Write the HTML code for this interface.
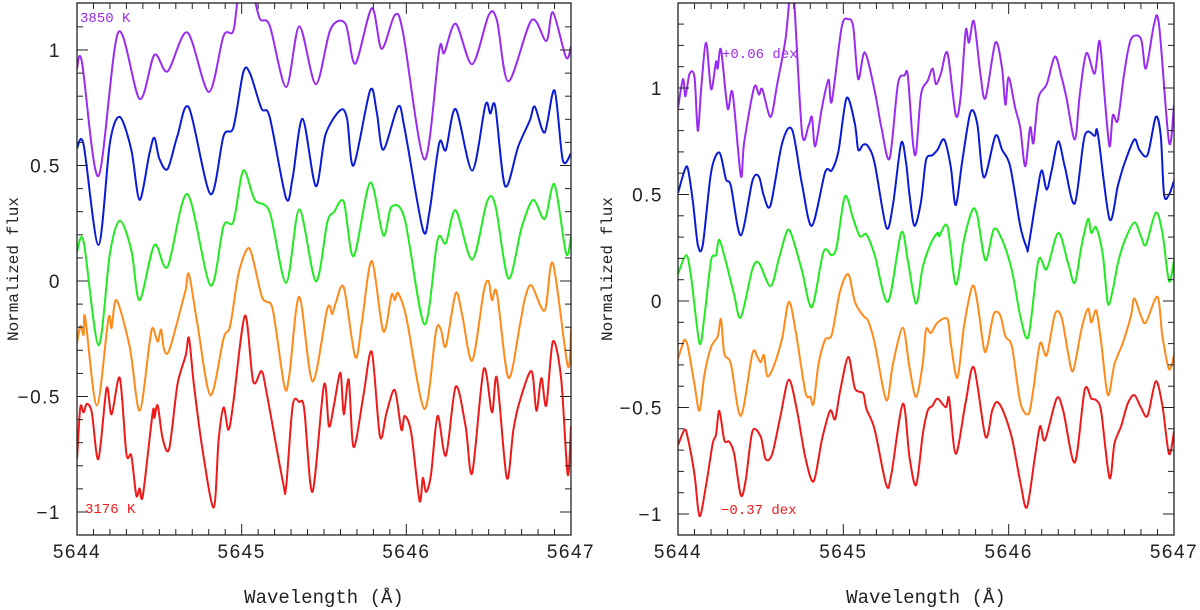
<!DOCTYPE html>
<html><head><meta charset="utf-8"><style>
html,body{margin:0;padding:0;background:#fff;}
svg{display:block;}
</style></head><body>
<svg id="chart" width="1200" height="610" viewBox="0 0 1200 610" xmlns="http://www.w3.org/2000/svg"></svg>
<script>
// ---- data (wavelength Å, normalized flux) ----
const xTicks = [5644, 5645, 5646, 5647];
const yTicks = [1, 0.5, 0, -0.5, -1];
const yTickLabels = ["1", "0.5", "0", "\u22120.5", "\u22121"];

const purpleL = [[5644.00,0.919],[5644.03,0.949],[5644.13,0.454],[5644.25,1.076],[5644.38,0.788],[5644.47,0.979],[5644.55,0.908],[5644.67,1.076],[5644.80,0.818],[5644.89,1.061],[5644.95,1.084],[5644.99,1.28],[5645.06,1.26],[5645.11,1.136],[5645.17,1.106],[5645.27,0.84],[5645.35,1.103],[5645.45,0.852],[5645.54,1.091],[5645.63,1.114],[5645.69,0.941],[5645.79,1.181],[5645.85,1.005],[5645.93,1.151],[5645.98,1.076],[5646.11,0.526],[5646.20,1.002],[5646.23,0.987],[5646.30,1.114],[5646.40,0.938],[5646.50,1.151],[5646.55,1.129],[5646.62,0.864],[5646.76,1.129],[5646.85,1.039],[5646.89,1.163],[5646.97,0.968],[5647.00,1.016]];
const blueL = [[5644.00,0.575],[5644.04,0.590],[5644.13,0.156],[5644.20,0.598],[5644.26,0.710],[5644.33,0.568],[5644.38,0.351],[5644.44,0.553],[5644.47,0.620],[5644.50,0.530],[5644.55,0.485],[5644.61,0.628],[5644.68,0.750],[5644.81,0.376],[5644.89,0.628],[5644.95,0.665],[5645.01,0.904],[5645.05,0.900],[5645.12,0.747],[5645.17,0.710],[5645.27,0.358],[5645.31,0.448],[5645.37,0.702],[5645.45,0.411],[5645.51,0.635],[5645.60,0.740],[5645.64,0.702],[5645.68,0.500],[5645.78,0.825],[5645.82,0.732],[5645.86,0.568],[5645.95,0.755],[5645.99,0.658],[5646.10,0.224],[5646.14,0.298],[5646.20,0.598],[5646.24,0.568],[5646.30,0.744],[5646.40,0.478],[5646.48,0.762],[5646.51,0.725],[5646.54,0.755],[5646.60,0.411],[5646.68,0.583],[5646.75,0.695],[5646.78,0.755],[5646.84,0.643],[5646.90,0.825],[5646.95,0.523],[5647.00,0.553]];
const greenL = [[5644.00,0.126],[5644.04,0.171],[5644.13,-0.278],[5644.20,0.119],[5644.26,0.261],[5644.33,0.134],[5644.38,-0.083],[5644.47,0.156],[5644.55,0.062],[5644.67,0.376],[5644.81,-0.019],[5644.89,0.239],[5644.95,0.257],[5645.01,0.478],[5645.08,0.351],[5645.17,0.298],[5645.27,-0.008],[5645.35,0.310],[5645.45,-0.001],[5645.52,0.254],[5645.56,0.298],[5645.62,0.343],[5645.68,0.107],[5645.78,0.426],[5645.86,0.197],[5645.91,0.321],[5645.99,0.269],[5646.11,-0.188],[5646.19,0.179],[5646.24,0.164],[5646.30,0.306],[5646.40,0.092],[5646.49,0.343],[5646.54,0.328],[5646.62,0.011],[5646.70,0.231],[5646.77,0.351],[5646.84,0.269],[5646.90,0.418],[5646.97,0.119],[5647.00,0.194]];
const orangeL = [[5644.00,-0.270],[5644.02,-0.195],[5644.04,-0.233],[5644.05,-0.158],[5644.12,-0.539],[5644.19,-0.165],[5644.21,-0.203],[5644.24,-0.083],[5644.32,-0.285],[5644.38,-0.562],[5644.44,-0.270],[5644.46,-0.203],[5644.49,-0.263],[5644.51,-0.210],[5644.53,-0.300],[5644.56,-0.300],[5644.63,-0.120],[5644.66,-0.038],[5644.68,0.029],[5644.73,-0.180],[5644.81,-0.494],[5644.89,-0.248],[5644.93,-0.195],[5644.98,0.029],[5645.03,0.134],[5645.06,0.119],[5645.12,-0.061],[5645.15,-0.090],[5645.19,-0.128],[5645.26,-0.457],[5645.29,-0.405],[5645.35,-0.068],[5645.43,-0.434],[5645.52,-0.120],[5645.55,-0.143],[5645.57,-0.098],[5645.62,-0.028],[5645.69,-0.330],[5645.73,-0.180],[5645.79,0.086],[5645.86,-0.218],[5645.91,-0.061],[5645.93,-0.083],[5645.95,-0.053],[5646.00,-0.158],[5646.11,-0.554],[5646.18,-0.218],[5646.21,-0.210],[5646.24,-0.282],[5646.30,-0.053],[5646.34,-0.150],[5646.40,-0.345],[5646.47,-0.046],[5646.50,-0.001],[5646.52,-0.083],[5646.55,-0.053],[5646.62,-0.419],[5646.69,-0.188],[5646.72,-0.076],[5646.76,-0.019],[5646.84,-0.128],[5646.89,0.077],[5646.98,-0.367],[5647.00,-0.210]];
const redL = [[5644.00,-0.771],[5644.02,-0.547],[5644.04,-0.569],[5644.06,-0.532],[5644.09,-0.569],[5644.13,-0.771],[5644.18,-0.464],[5644.21,-0.577],[5644.26,-0.420],[5644.30,-0.749],[5644.33,-0.756],[5644.36,-0.928],[5644.38,-0.898],[5644.40,-0.928],[5644.46,-0.569],[5644.47,-0.592],[5644.49,-0.539],[5644.52,-0.681],[5644.56,-0.726],[5644.61,-0.449],[5644.66,-0.322],[5644.68,-0.247],[5644.71,-0.449],[5644.76,-0.719],[5644.83,-0.981],[5644.86,-0.689],[5644.89,-0.547],[5644.92,-0.644],[5644.95,-0.524],[5645.02,-0.150],[5645.07,-0.435],[5645.12,-0.390],[5645.15,-0.479],[5645.25,-0.868],[5645.27,-0.891],[5645.31,-0.539],[5645.35,-0.524],[5645.38,-0.554],[5645.43,-0.913],[5645.50,-0.449],[5645.53,-0.629],[5645.56,-0.539],[5645.60,-0.397],[5645.62,-0.577],[5645.65,-0.427],[5645.68,-0.719],[5645.74,-0.494],[5645.79,-0.307],[5645.84,-0.674],[5645.88,-0.569],[5645.93,-0.472],[5645.97,-0.644],[5645.99,-0.584],[5646.03,-0.659],[5646.08,-0.951],[5646.10,-0.853],[5646.12,-0.913],[5646.15,-0.838],[5646.19,-0.584],[5646.24,-0.756],[5646.30,-0.457],[5646.36,-0.629],[5646.40,-0.831],[5646.47,-0.382],[5646.52,-0.569],[5646.55,-0.420],[5646.61,-0.853],[5646.65,-0.644],[5646.69,-0.517],[5646.76,-0.390],[5646.79,-0.562],[5646.82,-0.420],[5646.85,-0.539],[5646.89,-0.262],[5646.94,-0.420],[5646.98,-0.838],[5647.00,-0.629]];

const purpleR = [[5644.00,0.904],[5644.03,1.042],[5644.045,0.961],[5644.07,1.067],[5644.10,1.050],[5644.12,0.799],[5644.14,0.994],[5644.17,1.213],[5644.20,0.994],[5644.23,1.123],[5644.24,1.091],[5644.26,1.180],[5644.30,0.904],[5644.33,0.977],[5644.38,0.588],[5644.40,0.742],[5644.46,1.002],[5644.49,0.969],[5644.51,0.994],[5644.56,0.864],[5644.60,1.018],[5644.65,1.229],[5644.68,1.46],[5644.70,1.44],[5644.75,0.791],[5644.79,0.823],[5644.81,0.864],[5644.83,0.726],[5644.87,0.904],[5644.91,1.039],[5644.93,0.937],[5644.99,1.286],[5645.03,1.323],[5645.06,1.286],[5645.09,1.042],[5645.13,1.167],[5645.19,0.986],[5645.23,0.815],[5645.28,0.669],[5645.33,1.018],[5645.37,1.059],[5645.39,1.059],[5645.42,0.750],[5645.44,0.697],[5645.47,0.969],[5645.51,1.034],[5645.54,1.091],[5645.56,1.018],[5645.59,1.067],[5645.63,1.164],[5645.68,0.872],[5645.71,0.961],[5645.74,1.270],[5645.76,1.213],[5645.79,1.313],[5645.83,1.059],[5645.86,0.953],[5645.92,1.213],[5645.96,1.091],[5645.98,0.921],[5646.00,1.050],[5646.04,0.904],[5646.07,0.815],[5646.10,0.632],[5646.13,0.815],[5646.15,0.742],[5646.18,0.953],[5646.23,1.018],[5646.28,1.148],[5646.32,1.050],[5646.35,0.953],[5646.40,0.758],[5646.43,0.969],[5646.47,1.164],[5646.52,1.067],[5646.55,1.221],[5646.58,0.961],[5646.61,0.726],[5646.63,0.872],[5646.66,0.848],[5646.70,1.075],[5646.74,1.229],[5646.80,1.232],[5646.83,1.091],[5646.88,1.302],[5646.91,1.294],[5646.97,0.745],[5647.00,0.921]];
const blueR = [[5644.00,0.507],[5644.04,0.613],[5644.06,0.621],[5644.09,0.466],[5644.12,0.264],[5644.15,0.264],[5644.20,0.604],[5644.25,0.697],[5644.29,0.572],[5644.32,0.540],[5644.38,0.308],[5644.45,0.564],[5644.49,0.583],[5644.52,0.491],[5644.56,0.450],[5644.63,0.742],[5644.69,0.804],[5644.75,0.548],[5644.81,0.353],[5644.89,0.604],[5644.93,0.613],[5644.97,0.702],[5645.02,0.953],[5645.07,0.831],[5645.09,0.710],[5645.12,0.734],[5645.15,0.726],[5645.19,0.645],[5645.26,0.345],[5645.30,0.450],[5645.35,0.742],[5645.38,0.645],[5645.40,0.499],[5645.43,0.353],[5645.47,0.466],[5645.50,0.661],[5645.54,0.685],[5645.57,0.710],[5645.61,0.758],[5645.65,0.629],[5645.68,0.450],[5645.72,0.661],[5645.77,0.888],[5645.81,0.831],[5645.85,0.580],[5645.92,0.775],[5645.96,0.710],[5646.01,0.629],[5646.07,0.353],[5646.11,0.248],[5646.12,0.256],[5646.17,0.499],[5646.20,0.613],[5646.23,0.523],[5646.26,0.613],[5646.30,0.750],[5646.34,0.629],[5646.40,0.458],[5646.46,0.775],[5646.52,0.775],[5646.54,0.783],[5646.61,0.385],[5646.66,0.540],[5646.70,0.645],[5646.76,0.758],[5646.79,0.710],[5646.84,0.685],[5646.89,0.864],[5646.92,0.775],[5646.94,0.499],[5646.97,0.499],[5647.00,0.564]];
const greenR = [[5644.00,0.126],[5644.05,0.215],[5644.08,0.110],[5644.13,-0.198],[5644.16,-0.069],[5644.20,0.191],[5644.23,0.215],[5644.25,0.288],[5644.29,0.183],[5644.34,0.028],[5644.38,-0.077],[5644.45,0.150],[5644.49,0.178],[5644.56,0.069],[5644.61,0.199],[5644.66,0.329],[5644.69,0.304],[5644.75,0.142],[5644.81,-0.028],[5644.88,0.231],[5644.93,0.215],[5644.96,0.256],[5645.01,0.491],[5645.06,0.385],[5645.10,0.304],[5645.14,0.312],[5645.19,0.215],[5645.27,-0.004],[5645.35,0.320],[5645.39,0.191],[5645.44,-0.012],[5645.48,0.158],[5645.53,0.272],[5645.57,0.320],[5645.58,0.304],[5645.63,0.350],[5645.68,0.077],[5645.73,0.288],[5645.78,0.426],[5645.81,0.402],[5645.86,0.191],[5645.91,0.337],[5645.96,0.288],[5646.02,0.142],[5646.07,-0.069],[5646.12,-0.166],[5646.18,0.191],[5646.23,0.150],[5646.30,0.320],[5646.36,0.175],[5646.40,0.085],[5646.44,0.256],[5646.48,0.385],[5646.50,0.320],[5646.53,0.345],[5646.57,0.215],[5646.60,-0.012],[5646.63,0.053],[5646.66,0.175],[5646.70,0.280],[5646.76,0.369],[5646.80,0.304],[5646.83,0.264],[5646.89,0.415],[5646.93,0.320],[5646.97,0.093],[5647.00,0.191]];
const orangeR = [[5644.00,-0.272],[5644.03,-0.198],[5644.04,-0.182],[5644.06,-0.215],[5644.10,-0.393],[5644.13,-0.515],[5644.16,-0.344],[5644.20,-0.215],[5644.24,-0.166],[5644.26,-0.085],[5644.28,-0.247],[5644.32,-0.296],[5644.38,-0.539],[5644.45,-0.247],[5644.48,-0.263],[5644.50,-0.288],[5644.52,-0.255],[5644.54,-0.353],[5644.58,-0.304],[5644.63,-0.174],[5644.67,-0.004],[5644.71,-0.134],[5644.77,-0.426],[5644.80,-0.450],[5644.82,-0.482],[5644.85,-0.296],[5644.89,-0.182],[5644.93,-0.158],[5644.98,0.045],[5645.03,0.126],[5645.07,-0.004],[5645.12,-0.069],[5645.15,-0.093],[5645.19,-0.198],[5645.26,-0.466],[5645.30,-0.296],[5645.36,-0.126],[5645.40,-0.312],[5645.44,-0.450],[5645.48,-0.296],[5645.50,-0.134],[5645.53,-0.150],[5645.57,-0.101],[5645.63,-0.085],[5645.65,-0.198],[5645.69,-0.361],[5645.73,-0.118],[5645.78,0.069],[5645.81,-0.004],[5645.85,-0.223],[5645.87,-0.215],[5645.91,-0.061],[5645.95,-0.069],[5645.98,-0.166],[5646.02,-0.215],[5646.07,-0.474],[5646.12,-0.531],[5646.15,-0.410],[5646.19,-0.198],[5646.23,-0.255],[5646.28,-0.061],[5646.32,-0.077],[5646.36,-0.247],[5646.39,-0.328],[5646.44,-0.134],[5646.48,-0.036],[5646.50,-0.101],[5646.53,-0.045],[5646.56,-0.198],[5646.60,-0.442],[5646.64,-0.296],[5646.69,-0.198],[5646.74,-0.069],[5646.76,0.012],[5646.80,-0.069],[5646.83,-0.101],[5646.90,0.020],[5646.93,-0.166],[5646.97,-0.320],[5647.00,-0.255]];
const redR = [[5644.00,-0.677],[5644.04,-0.604],[5644.06,-0.645],[5644.10,-0.815],[5644.13,-1.010],[5644.17,-0.864],[5644.21,-0.669],[5644.23,-0.628],[5644.25,-0.515],[5644.28,-0.653],[5644.31,-0.661],[5644.34,-0.718],[5644.38,-0.912],[5644.41,-0.839],[5644.45,-0.612],[5644.50,-0.637],[5644.53,-0.742],[5644.57,-0.718],[5644.62,-0.539],[5644.67,-0.369],[5644.72,-0.515],[5644.77,-0.734],[5644.82,-0.847],[5644.87,-0.653],[5644.92,-0.515],[5644.95,-0.555],[5644.98,-0.426],[5645.03,-0.263],[5645.07,-0.410],[5645.12,-0.434],[5645.14,-0.507],[5645.19,-0.604],[5645.26,-0.864],[5645.29,-0.815],[5645.36,-0.482],[5645.40,-0.734],[5645.44,-0.864],[5645.48,-0.628],[5645.51,-0.515],[5645.54,-0.491],[5645.57,-0.458],[5645.62,-0.499],[5645.64,-0.458],[5645.68,-0.718],[5645.74,-0.474],[5645.79,-0.312],[5645.86,-0.637],[5645.90,-0.515],[5645.93,-0.474],[5645.97,-0.523],[5646.02,-0.645],[5646.07,-0.847],[5646.11,-0.969],[5646.16,-0.726],[5646.19,-0.588],[5646.22,-0.653],[5646.29,-0.458],[5646.33,-0.515],[5646.40,-0.758],[5646.46,-0.418],[5646.50,-0.458],[5646.53,-0.466],[5646.56,-0.523],[5646.61,-0.831],[5646.64,-0.669],[5646.68,-0.588],[5646.72,-0.482],[5646.76,-0.442],[5646.80,-0.499],[5646.84,-0.539],[5646.89,-0.377],[5646.93,-0.491],[5646.97,-0.718],[5647.00,-0.612]];

const seriesNames = ["purple", "blue", "green", "orange", "red"];
const seriesColors = ["#9a2cf0", "#0a1ad6", "#22ea22", "#ff8a1a", "#ee1a1a"];
const leftSeries = [purpleL, blueL, greenL, orangeL, redL];
const rightSeries = [purpleR, blueR, greenR, orangeR, redR];

// ---- rendering ----
const NS = "http://www.w3.org/2000/svg";
const svg = document.getElementById("chart");
function mk(tag, attrs, parent) {
  const e = document.createElementNS(NS, tag);
  for (const k in attrs) e.setAttribute(k, attrs[k]);
  (parent || svg).appendChild(e);
  return e;
}
const SANS = "Liberation Sans, DejaVu Sans, sans-serif";
const MONO = "Liberation Mono, DejaVu Sans Mono, monospace";

const panels = [
  {id: "left", x0: 77, x1: 571, y0: 3, y1: 535, yOne: 50, yZero: 281, series: leftSeries,
   yLabelX: 61, yTitleX: 18, tags: [["3850 K", 80, 22, 0], ["3176 K", 85, 513, 4]]},
  {id: "right", x0: 678, x1: 1174, y0: 3, y1: 535, yOne: 88, yZero: 301, series: rightSeries,
   yLabelX: 663, yTitleX: 612, tags: [["+0.06 dex", 722, 58, 0], ["\u22120.37 dex", 721, 514, 4]]}
];

panels.forEach(function (p) {
  const unit = p.yZero - p.yOne;
  const xs = function (w) { return p.x0 + (w - 5644) / 3 * (p.x1 - p.x0); };
  const ys = function (f) { return p.yZero - f * unit; };
  const g = mk("g", {});
  
  

  const clipId = "clip-" + p.id;
  const cp = mk("clipPath", {id: clipId}, g);
  mk("rect", {x: p.x0, y: p.y0, width: p.x1 - p.x0, height: p.y1 - p.y0}, cp);

  const sg = mk("g", {"clip-path": "url(#" + clipId + ")"}, g);
  p.series.forEach(function (data, si) {
    const pts = data.map(function (d) { return [xs(d[0]), ys(d[1])]; });
    let dstr = "M" + pts[0][0].toFixed(1) + "," + pts[0][1].toFixed(1);
    for (let i = 0; i < pts.length - 1; i++) {
      const p0 = pts[Math.max(0, i - 1)], p1 = pts[i], p2 = pts[i + 1], p3 = pts[Math.min(pts.length - 1, i + 2)];
      const t = 0.15;
      const c1x = p1[0] + (p2[0] - p0[0]) * t, c1y = p1[1] + (p2[1] - p0[1]) * t;
      const c2x = p2[0] - (p3[0] - p1[0]) * t, c2y = p2[1] - (p3[1] - p1[1]) * t;
      dstr += "C" + c1x.toFixed(1) + "," + c1y.toFixed(1) + " " + c2x.toFixed(1) + "," + c2y.toFixed(1) + " " + p2[0].toFixed(1) + "," + p2[1].toFixed(1);
    }
    const path = mk("path", {d: dstr, fill: "none", stroke: seriesColors[si], "stroke-width": 2, "stroke-linejoin": "round"}, sg);
    
    
  });

  const fr = mk("rect", {x: p.x0, y: p.y0, width: p.x1 - p.x0, height: p.y1 - p.y0, fill: "none", stroke: "#222", "stroke-width": 1.3}, g);
  
  

  for (let k = 0; k <= 30; k++) {
    const w = 5644 + k * 0.1;
    const x = xs(w);
    const len = (k % 10 === 0) ? 11 : 6;
    mk("line", {x1: x, y1: p.y1, x2: x, y2: p.y1 - len, stroke: "#222", "stroke-width": 1}, g);
    mk("line", {x1: x, y1: p.y0, x2: x, y2: p.y0 + len, stroke: "#222", "stroke-width": 1}, g);
  }
  xTicks.forEach(function (w) {
    const t = mk("text", {x: xs(w), y: 558, "text-anchor": "middle", "font-family": SANS, "font-size": 19, "letter-spacing": 1.5, fill: "#222"}, g);
    t.textContent = String(w);
    
    
  });

  for (let k = -12; k <= 14; k++) {
    const f = k * 0.1;
    const y = ys(f);
    if (y < p.y0 + 1 || y > p.y1 - 1) continue;
    const len = (k % 5 === 0) ? 11 : 6;
    mk("line", {x1: p.x0, y1: y, x2: p.x0 + len, y2: y, stroke: "#222", "stroke-width": 1}, g);
    mk("line", {x1: p.x1, y1: y, x2: p.x1 - len, y2: y, stroke: "#222", "stroke-width": 1}, g);
  }
  yTicks.forEach(function (f, i) {
    const t = mk("text", {x: p.yLabelX, y: ys(f) + 7, "text-anchor": "end", "font-family": SANS, "font-size": 19, "letter-spacing": 1.5, fill: "#222"}, g);
    t.textContent = yTickLabels[i];
    
    
  });

  const cy = (p.y0 + p.y1) / 2;
  const yt = mk("text", {x: p.yTitleX, y: cy, "text-anchor": "middle", "font-family": MONO, "font-size": 16, fill: "#222", transform: "rotate(-90 " + p.yTitleX + " " + cy + ")"}, g);
  yt.textContent = "Normalized flux";
  
  
  const xt = mk("text", {x: (p.x0 + p.x1) / 2, y: 603, "text-anchor": "middle", "font-family": MONO, "font-size": 19, fill: "#222"}, g);
  xt.textContent = "Wavelength (\u00C5)";
  
  

  p.tags.forEach(function (tg) {
    const t = mk("text", {x: tg[1], y: tg[2], "font-family": MONO, "font-size": 14, fill: seriesColors[tg[3]]}, g);
    t.textContent = tg[0];
    
    
  });
});
</script>
</body></html>
